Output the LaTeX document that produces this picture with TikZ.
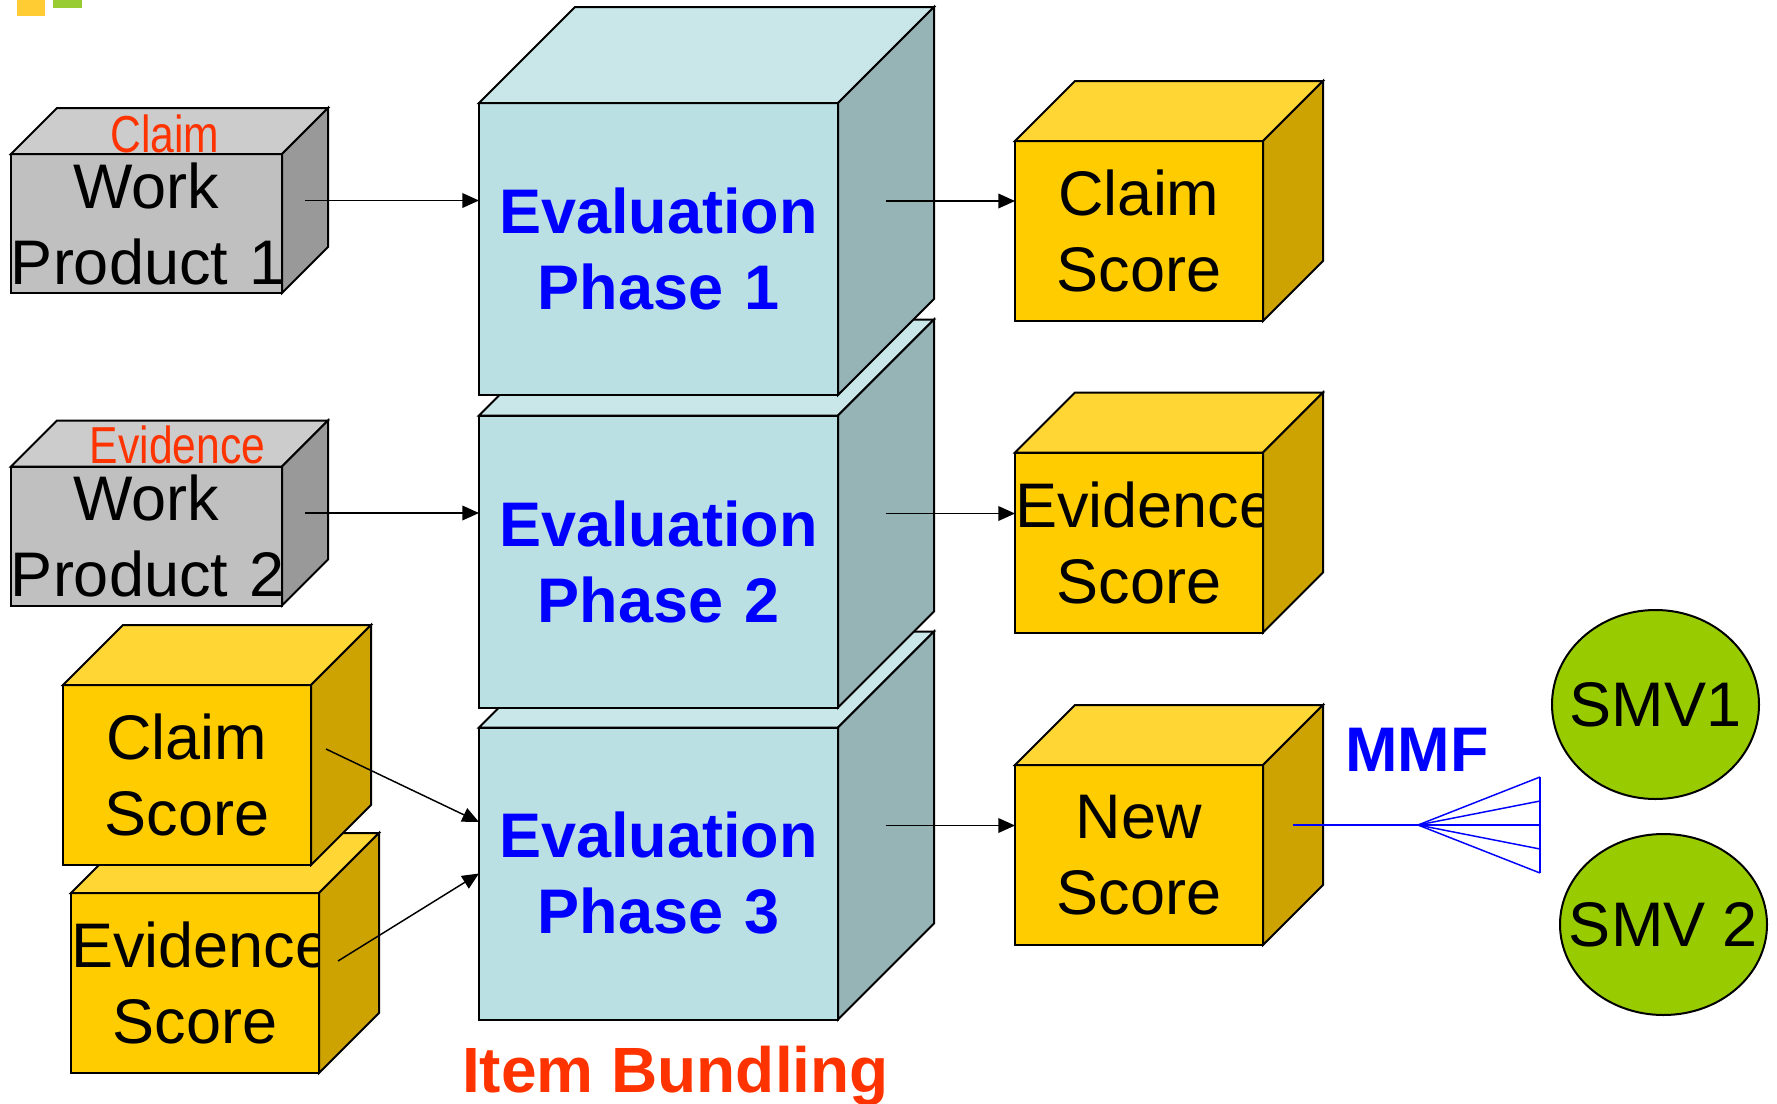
\documentclass[tikz,border=0pt]{standalone}
\usepackage{fontspec}
\setmainfont{Liberation Sans}
\newfontfamily\narrowsans[FakeStretch=0.82]{Liberation Sans}
\usetikzlibrary{arrows.meta,shapes.geometric}

\definecolor{wpfront}{HTML}{C0C0C0}
\definecolor{wptop}{HTML}{CCCCCC}
\definecolor{wpside}{HTML}{999999}
\definecolor{evfront}{HTML}{BBE0E3}
\definecolor{evtop}{HTML}{C9E6E8}
\definecolor{evside}{HTML}{96B3B6}
\definecolor{scfront}{HTML}{FFCC00}
\definecolor{sctop}{HTML}{FFD633}
\definecolor{scside}{HTML}{CCA300}
\definecolor{smvgreen}{HTML}{99CC00}
\definecolor{tagred}{HTML}{FF3300}
\definecolor{logoyellow}{HTML}{FFCC33}
\definecolor{logogreen}{HTML}{99CC33}

\newcommand{\boxfont}{\fontsize{47.25pt}{57pt}\selectfont\hyphenpenalty=10000 \parindent=0pt }

% top and right faces of the cube whose front face is node #1
\newcommand{\cubefaces}[4]{%
  \path (#1.north west) ++(#2,-#2) coordinate (#1-tl)
        (#1.north east) ++(#2,-#2) coordinate (#1-tr)
        (#1.south east) ++(#2,-#2) coordinate (#1-br)
        (#1.east) ++(#2/2,-#2/2) coordinate (#1-side);
  \draw[cubeface, fill=#3] (#1.north west) -- (#1-tl) -- (#1-tr) -- (#1.north east) -- cycle;
  \draw[cubeface, fill=#4] (#1.north east) -- (#1-tr) -- (#1-br) -- (#1.south east) -- cycle;
}

\begin{document}
\begin{tikzpicture}[x=0.75pt,y=0.75pt,yscale=-1,xscale=1,
  cubeface/.style={draw, line width=1.5pt},
  cubefront/.style={cubeface, inner sep=0pt, outer sep=0pt, align=center, font=\boxfont},
  wpbox/.style={cubefront, fill=wpfront, minimum width=203.25pt, text width=203.25pt, minimum height=104.25pt},
  evbox/.style={cubefront, fill=evfront, minimum width=269.25pt, text width=269.25pt, minimum height=219pt, text=blue, font=\boxfont\bfseries},
  scbox/.style={cubefront, fill=scfront, minimum width=186pt, text width=186pt, minimum height=135pt},
  smv/.style={ellipse, draw, line width=1.5pt, fill=smvgreen, inner sep=0pt, font=\boxfont},
  wptag/.style={text=tagred, inner sep=0pt, anchor=base, font=\narrowsans\fontsize{39pt}{47pt}\selectfont},
  flow/.style={line width=1.1pt, -{Triangle[length=12.5pt,width=11pt]}},
  mmfline/.style={blue, line width=1.1pt}]
\useasboundingbox (0,0) rectangle (1777,1103);

%Shape: Logo corner
\fill[logoyellow] (17,0) rectangle (45,16);
\fill[logogreen] (53,0) rectangle (82,8);

%Shape: Cube [work products]
\node[wpbox] (wp1) at (146.5,223.5) {Work\\Product~1};
\cubefaces{wp1}{46}{wptop}{wpside}
\node[wpbox] (wp2) at (146.5,536) {Work\\Product~2};
\cubefaces{wp2}{46}{wptop}{wpside}

%Shape: Cube [evaluation phases, bottom one first]
\node[evbox] (phase3) at (658.5,873.5) {Evaluation\\Phase~3};
\cubefaces{phase3}{96}{evtop}{evside}
\node[evbox] (phase2) at (658.5,561.5) {Evaluation\\Phase~2};
\cubefaces{phase2}{96}{evtop}{evside}
\node[evbox] (phase1) at (658.5,249) {Evaluation\\Phase~1};
\cubefaces{phase1}{96}{evtop}{evside}

%Shape: Cube [scores out]
\node[scbox] (claimsc) at (1139,231) {Claim\\Score};
\cubefaces{claimsc}{60}{sctop}{scside}
\node[scbox] (evidsc) at (1139,542.5) {Evidence\\Score};
\cubefaces{evidsc}{60}{sctop}{scside}
\node[scbox] (newsc) at (1139,855) {New\\Score};
\cubefaces{newsc}{60}{sctop}{scside}

%Shape: Cube [scores in]
\node[scbox] (evidin) at (195,983) {Evidence\\Score};
\cubefaces{evidin}{60}{sctop}{scside}
\node[scbox] (claimin) at (187,775) {Claim\\Score};
\cubefaces{claimin}{60}{sctop}{scside}

%Shape: Ellipse
\node[smv, minimum width=155.25pt, minimum height=141.75pt] (smv1) at (1655.5,704.5) {\makebox[0pt]{SMV1}};
\node[smv, minimum width=155.25pt, minimum height=135.75pt] (smv2) at (1663.5,924.5) {\makebox[0pt]{SMV 2}};

% Text Node
\node[wptag] (wp1tag) at (165,152) {Claim};
% Text Node
\node[wptag] (wp2tag) at (177.5,463) {Evidence};
% Text Node
\node[anchor=base, inner sep=0pt, text=blue, font=\boxfont\bfseries] (mmf) at (1417,771) {MMF};
% Text Node
\node[anchor=base, inner sep=0pt, text=tagred, font=\fontsize{48pt}{58pt}\selectfont\bfseries] (bundle) at (675.5,1092) {Item Bundling};

%Straight Lines
\draw[flow] (wp1-side) -- (wp1-side -| phase1.west);
\draw[flow] (wp2-side) -- (wp2-side -| phase2.west);
\draw[flow] (phase1-side) -- (phase1-side -| claimsc.west);
\draw[flow] (phase2-side) -- (phase2-side -| evidsc.west);
\draw[flow] (phase3-side) -- (phase3-side -| newsc.west);
\path (claimin.east) ++(15,-26) coordinate (claimin-out);
\path (evidin.east) ++(19,-22) coordinate (evidin-out);
\draw[flow] (claimin-out) -- (phase3.164.6);
\draw[flow] (evidin-out) -- (phase3.west);

%Straight Lines [MMF fan]
\draw[mmfline] (newsc-side) -- ++(125,0) coordinate (fanroot);
\foreach \dy in {-48,-24,0,24,48}
  \draw[mmfline] (fanroot) -- ++(122,\dy);
\draw[mmfline] (fanroot) ++(122,-48) -- ++(0,96);
\end{tikzpicture}
\end{document}
